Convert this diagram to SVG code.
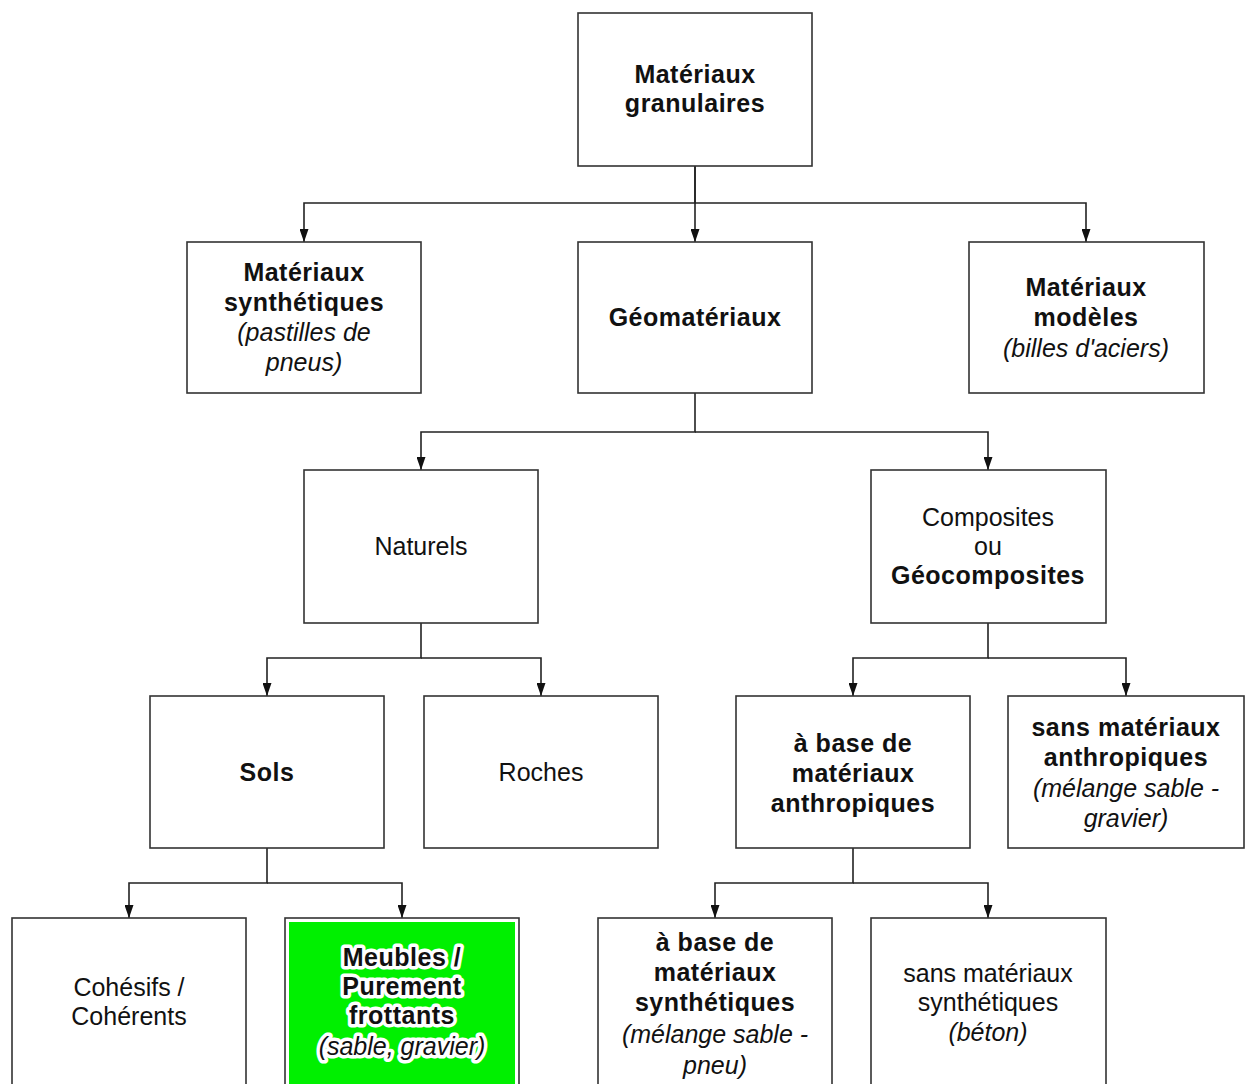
<svg xmlns="http://www.w3.org/2000/svg" width="1251" height="1084" viewBox="0 0 1251 1084">
<style>
.box{fill:#fff;stroke:#333;stroke-width:1.6}
.lbl{font-family:"Liberation Sans",Arial,sans-serif;font-size:25px;fill:#111;text-anchor:middle}
.b{font-weight:bold;letter-spacing:0.5px}
.i{font-style:italic}
.halo{stroke:#fff;stroke-width:7px;stroke-linejoin:round;paint-order:stroke}
.con{fill:none;stroke:#222;stroke-width:1.6}
</style>
<defs>
<marker id="arr" viewBox="0 0 13 9" refX="13" refY="4.5" markerWidth="13" markerHeight="9" orient="auto" markerUnits="userSpaceOnUse">
<path d="M0,0 L13,4.5 L0,9 Z" fill="#111"/>
</marker>
</defs>
<rect width="1251" height="1084" fill="#fff"/>

<g id="connectors">
<path class="con" d="M695,166 V203 H304 V242" marker-end="url(#arr)"/>
<path class="con" d="M695,166 V242" marker-end="url(#arr)"/>
<path class="con" d="M695,203 H1086 V242" marker-end="url(#arr)"/>
<path class="con" d="M695,393 V432 H421 V470" marker-end="url(#arr)"/>
<path class="con" d="M695,432 H988 V470" marker-end="url(#arr)"/>
<path class="con" d="M421,623 V658 H267 V696" marker-end="url(#arr)"/>
<path class="con" d="M421,658 H541 V696" marker-end="url(#arr)"/>
<path class="con" d="M988,623 V658 H853 V696" marker-end="url(#arr)"/>
<path class="con" d="M988,658 H1126 V696" marker-end="url(#arr)"/>
<path class="con" d="M267,848 V883 H129 V918" marker-end="url(#arr)"/>
<path class="con" d="M267,883 H402 V918" marker-end="url(#arr)"/>
<path class="con" d="M853,848 V883 H715 V918" marker-end="url(#arr)"/>
<path class="con" d="M853,883 H988 V918" marker-end="url(#arr)"/>
</g>

<g id="n-granulaires">
<rect class="box" x="578" y="13" width="234" height="153"/>
<text class="lbl b"><tspan x="695" y="83">Matériaux</tspan><tspan x="695" y="112">granulaires</tspan></text>
</g>

<g id="n-synthetiques">
<rect class="box" x="187" y="242" width="234" height="151"/>
<text class="lbl"><tspan class="b" x="304" y="281">Matériaux</tspan><tspan class="b" x="304" y="311">synthétiques</tspan><tspan class="i" x="304" y="341">(pastilles de</tspan><tspan class="i" x="304" y="371">pneus)</tspan></text>
</g>

<g id="n-geomateriaux">
<rect class="box" x="578" y="242" width="234" height="151"/>
<text class="lbl b" x="695" y="326">Géomatériaux</text>
</g>

<g id="n-modeles">
<rect class="box" x="969" y="242" width="235" height="151"/>
<text class="lbl"><tspan class="b" x="1086" y="296">Matériaux</tspan><tspan class="b" x="1086" y="326">modèles</tspan><tspan class="i" x="1086" y="357">(billes d'aciers)</tspan></text>
</g>

<g id="n-naturels">
<rect class="box" x="304" y="470" width="234" height="153"/>
<text class="lbl" x="421" y="555">Naturels</text>
</g>

<g id="n-composites">
<rect class="box" x="871" y="470" width="235" height="153"/>
<text class="lbl"><tspan x="988" y="526">Composites</tspan><tspan x="988" y="555">ou</tspan><tspan class="b" x="988" y="584">Géocomposites</tspan></text>
</g>

<g id="n-sols">
<rect class="box" x="150" y="696" width="234" height="152"/>
<text class="lbl b" x="267" y="781">Sols</text>
</g>

<g id="n-roches">
<rect class="box" x="424" y="696" width="234" height="152"/>
<text class="lbl" x="541" y="781">Roches</text>
</g>

<g id="n-base-anthropiques">
<rect class="box" x="736" y="696" width="234" height="152"/>
<text class="lbl b"><tspan x="853" y="752">à base de</tspan><tspan x="853" y="782">matériaux</tspan><tspan x="853" y="812">anthropiques</tspan></text>
</g>

<g id="n-sans-anthropiques">
<rect class="box" x="1008" y="696" width="236" height="152"/>
<text class="lbl"><tspan class="b" x="1126" y="736">sans matériaux</tspan><tspan class="b" x="1126" y="766">anthropiques</tspan><tspan class="i" x="1126" y="797">(mélange sable -</tspan><tspan class="i" x="1126" y="827">gravier)</tspan></text>
</g>

<g id="n-cohesifs">
<rect class="box" x="12" y="918" width="234" height="190"/>
<text class="lbl"><tspan x="129" y="996">Cohésifs /</tspan><tspan x="129" y="1025">Cohérents</tspan></text>
</g>

<g id="n-meubles">
<rect class="box" x="285" y="918" width="234" height="190"/>
<rect x="289" y="922" width="226" height="190" fill="#00f000"/>
<text class="lbl halo"><tspan class="b" x="402" y="966">Meubles /</tspan><tspan class="b" x="402" y="995">Purement</tspan><tspan class="b" x="402" y="1024">frottants</tspan><tspan class="i" x="402" y="1055">(sable, gravier)</tspan></text>
</g>

<g id="n-base-synthetiques">
<rect class="box" x="598" y="918" width="234" height="190"/>
<text class="lbl"><tspan class="b" x="715" y="951">à base de</tspan><tspan class="b" x="715" y="981">matériaux</tspan><tspan class="b" x="715" y="1011">synthétiques</tspan><tspan class="i" x="715" y="1043">(mélange sable -</tspan><tspan class="i" x="715" y="1074">pneu)</tspan></text>
</g>

<g id="n-sans-synthetiques">
<rect class="box" x="871" y="918" width="235" height="190"/>
<text class="lbl"><tspan x="988" y="982">sans matériaux</tspan><tspan x="988" y="1011">synthétiques</tspan><tspan class="i" x="988" y="1041">(béton)</tspan></text>
</g>
</svg>
